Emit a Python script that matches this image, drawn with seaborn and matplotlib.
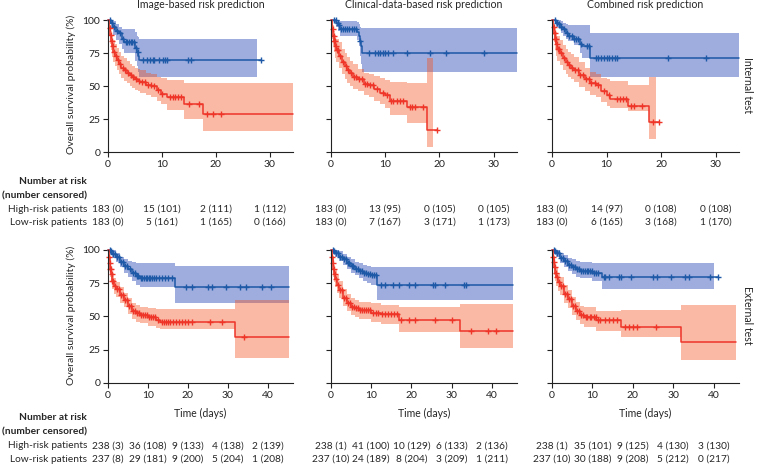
import numpy as np
import matplotlib
matplotlib.use("Agg")
import matplotlib.pyplot as plt
from matplotlib.transforms import blended_transform_factory
import seaborn as sns

nan = np.nan

# ---- panel titles / labels
titles = ["Image-based risk prediction", "Clinical-data-based risk prediction", "Combined risk prediction"]
row_labels = ["Internal test", "External test"]

# ---- internal test, image-based
ii_low_t = [0, 0.6, 1.0, 1.5, 2.0, 2.6, 3.0, 5.0, 5.3, 5.6, 5.8, 27.6, 28.4]
ii_low_s = [100, 98, 95, 92, 90, 86, 83.5, 79, 76, 73, 70, 70, 70]
ii_low_lo = [100, 94, 89, 85, 82, 78, 75, 69, 65, 61, 57, 57, nan]
ii_low_hi = [100, 100, 99, 97, 95, 93, 93, 91, 88, 87, 86, 86, nan]
ii_low_c = [0.4, 0.8, 1.2, 1.6, 2.2, 2.8, 3.3, 3.6, 3.9, 4.2, 4.5, 4.8, 5.1, 5.5, 6.5, 7.2, 7.8,
            8.3, 8.6, 9.5, 10.2, 10.6, 11.0, 14.8, 15.4, 28.4]
ii_high_t = [0, 0.2, 0.4, 0.6, 0.8, 1.0, 1.3, 1.6, 2.0, 2.5, 3.0, 3.5, 4.0, 4.5, 5.0, 5.5, 6.0,
             7.0, 8.0, 9.0, 9.8, 11.0, 14.0, 17.7, 34.3]
ii_high_s = [100, 94, 89, 84, 80, 76, 73, 70, 67, 64, 62, 60, 58, 56.5, 55, 54, 53, 51, 50, 47,
             44, 41.5, 36.5, 29, 29]
ii_high_lo = [100, 88, 82, 77, 72, 68, 65, 62, 59, 56, 54, 52, 50, 48.5, 47, 46, 45, 43, 42, 39,
              36, 32, 25, 16, 16]
ii_high_hi = [100, 99, 96, 92, 88, 85, 82, 79, 76, 73, 71, 69, 67, 65, 64, 63, 62, 60, 59, 57,
              56, 54.5, 52.5, 52.5, 52.5]
ii_high_c = [0.3, 0.5, 0.7, 0.9, 1.1, 1.4, 1.8, 2.2, 2.7, 3.2, 3.7, 4.2, 4.7, 5.2, 5.8, 6.3, 6.8,
             7.4, 7.9, 8.5, 9.2, 10.0, 11.5, 12.0, 12.5, 13.0, 13.5, 15.0, 16.8, 18.3, 19.5, 21.0]

# ---- internal test, clinical-data-based
ic_low_t = [0, 1.0, 1.3, 1.6, 4.8, 5.1, 5.3, 5.5, 5.8, 34.3]
ic_low_s = [100, 98, 96, 93, 91, 88, 84, 80, 75, 75]
ic_low_lo = [100, 95, 92, 88, 85, 80, 73, 67, 60.5, 60.5]
ic_low_hi = [100, 100, 100, 99, 98.5, 97, 95, 94, 93.7, 93.7]
ic_low_c = [0.6, 0.9, 1.2, 1.5, 1.8, 2.2, 2.6, 3.0, 3.4, 3.8, 4.2, 4.6, 5.4, 7.0, 8.2, 8.6, 9.0,
            9.5, 10.0, 10.5, 11.5, 14.0, 18.3, 21.2, 28.3]
ic_high_t = [0, 0.2, 0.4, 0.6, 0.8, 1.0, 1.4, 2.0, 2.5, 3.0, 3.5, 4.0, 5.0, 6.0, 7.0, 8.0, 9.0,
             10.0, 10.8, 14.0, 17.7, 18.9, 19.6]
ic_high_s = [100, 93, 88, 84, 80, 77, 73, 68.5, 65, 62, 59.5, 57, 55, 51.5, 50.5, 48, 45, 43, 39,
             34, 17, 17, 17]
ic_high_lo = [100, 86, 80, 76, 71, 68, 64, 59, 55.5, 52.5, 50, 47.5, 46, 43, 42, 39, 36, 33, 28,
              22, 4, 4, nan]
ic_high_hi = [100, 99, 96, 92, 89, 86, 83, 78, 75, 72, 69, 67, 63, 60, 59, 57.5, 56, 54.6, 53, 52,
              71.5, 71.5, nan]
ic_high_c = [0.3, 0.5, 0.6, 0.7, 0.9, 1.1, 1.3, 1.7, 2.2, 2.7, 3.2, 3.7, 4.2, 4.7, 5.2, 5.7, 6.2,
             6.7, 7.2, 7.8, 8.5, 9.5, 10.3, 11.0, 11.5, 12.2, 12.8, 13.3, 14.5, 15.0, 15.5, 17.0, 19.6]

# ---- internal test, combined
ix_low_t = [0, 0.8, 1.2, 1.6, 2.0, 2.5, 3.0, 4.0, 5.2, 5.5, 7.0, 34.3]
ix_low_s = [100, 98, 97, 95, 93, 90, 88, 86, 82, 80, 71.5, 71.5]
ix_low_lo = [100, 95, 93, 90, 88, 86, 84, 81, 75, 71, 57, 57]
ix_low_hi = [100, 100, 100, 99, 98, 97, 96, 96, 96, 96, 90, 90]
ix_low_c = [0.5, 0.9, 1.3, 1.7, 2.2, 2.7, 3.2, 3.6, 4.0, 4.4, 4.8, 5.3, 6.4, 6.8, 8.0, 8.5, 9.0,
            9.5, 10.0, 10.5, 11.0, 11.5, 12.0, 21.3, 28.3]
ix_high_t = [0, 0.2, 0.4, 0.6, 0.8, 1.0, 1.5, 2.0, 2.5, 3.0, 3.5, 4.0, 5.0, 6.0, 7.0, 8.0, 9.0,
             10.0, 10.7, 13.9, 17.8, 19.0, 19.6]
ix_high_s = [100, 95, 90, 86, 82, 78, 75, 71, 68, 66, 64, 62, 58, 55, 52, 50.5, 46, 43, 40, 35,
             23, 23, 23]
ix_high_lo = [100, 89, 83, 78, 73, 69, 66, 62, 59, 57, 55, 53, 49, 46, 43, 41.5, 38, 35, 33, 31,
              10, 10, nan]
ix_high_hi = [100, 99, 97, 94, 91, 88, 85, 81, 78, 76, 74, 72, 68, 64, 61, 59, 56, 55, 54, 51,
              57, 57, nan]
ix_high_c = [0.3, 0.5, 0.6, 0.7, 0.9, 1.1, 1.3, 1.7, 2.2, 2.7, 3.2, 3.7, 4.2, 4.7, 5.2, 5.7, 6.2,
             6.7, 7.2, 7.8, 8.5, 9.5, 10.5, 12.0, 12.5, 13.0, 13.5, 14.5, 15.0, 16.5, 18.5, 19.6]

# ---- external test, image-based
ei_low_t = [0, 0.5, 1.0, 2.0, 3.0, 4.0, 5.0, 6.0, 7.0, 8.0, 16.8, 45.2]
ei_low_s = [100, 99, 97, 95, 91, 88, 86, 83, 80.5, 79, 72.5, 72.5]
ei_low_lo = [100, 97, 94, 91, 87, 83, 80, 77, 74, 72.5, 60, 60]
ei_low_hi = [100, 100, 100, 98, 95, 93, 92, 91, 90, 90, 88, 88]
ei_low_c = [0.4, 0.8, 1.3, 1.7, 2.3, 2.7, 3.3, 3.8, 4.3, 4.8, 5.5, 6.2, 6.8, 7.3, 7.6, 8.2, 8.6,
            9.0, 9.4, 9.8, 10.2, 10.6, 11.0, 11.5, 12.0, 12.8, 13.5, 14.2, 15.0, 16.0, 19.5, 21.0,
            25.0, 26.0, 29.5, 33.0, 34.5, 38.5, 40.7]
ei_high_t = [0, 0.2, 0.4, 0.6, 0.8, 1.0, 1.5, 2.0, 3.0, 4.0, 5.0, 6.0, 7.0, 8.0, 10.0, 12.0, 13.0,
             31.8, 45.2]
ei_high_s = [100, 95, 90, 86, 82, 77, 73, 70.5, 66, 62.5, 58, 54, 52.4, 51, 49.4, 47, 46, 34.5, 34.5]
ei_high_lo = [100, 91, 85, 80, 76, 71, 67, 65, 60, 57, 52, 48, 46, 45, 43, 41, 40.5, 19, 19]
ei_high_hi = [100, 99, 96, 92, 88, 83, 79, 76, 72, 68, 64, 60, 58.5, 57, 56, 55.5, 55.5, 62.5, 62.5]
ei_high_c = [0.3, 0.5, 0.6, 0.7, 0.9, 1.1, 1.3, 1.7, 2.3, 2.7, 3.3, 3.7, 4.3, 4.7, 5.3, 5.7, 6.3,
             6.7, 7.3, 7.7, 8.3, 8.7, 9.2, 9.7, 10.3, 10.8, 11.3, 11.8, 12.5, 13.5, 14.0, 14.5, 15.0,
             15.5, 16.2, 17.0, 17.8, 18.5, 19.3, 20.0, 21.0, 25.5, 28.5, 34.0]

# ---- external test, clinical-data-based
ec_low_t = [0, 0.5, 1.0, 2.0, 3.0, 4.0, 5.0, 6.0, 7.0, 8.0, 9.0, 10.0, 11.5, 45.2]
ec_low_s = [100, 99, 98, 95, 93, 90, 88, 86, 84.5, 83, 82, 81, 73.5, 73.5]
ec_low_lo = [100, 97, 95, 92, 89, 86, 83, 81, 79, 77, 75, 74, 62.5, 62.5]
ec_low_hi = [100, 100, 100, 99, 97, 95, 93, 91, 90, 89, 88, 87, 87, 87]
ec_low_c = [0.4, 0.8, 1.3, 1.7, 2.3, 2.8, 3.3, 3.7, 4.2, 4.6, 5.2, 5.6, 6.2, 6.6, 7.2, 7.6, 8.2,
            8.6, 9.2, 9.6, 10.2, 10.8, 11.2, 12.5, 13.5, 15.5, 17.0, 19.5, 21.0, 25.5, 26.0, 28.5,
            33.0, 33.5]
ec_high_t = [0, 0.2, 0.4, 0.6, 0.8, 1.0, 1.5, 2.0, 3.0, 4.0, 5.0, 6.0, 7.0, 10.0, 12.4, 17.0, 32.0,
             45.2]
ec_high_s = [100, 95, 90, 86, 82, 78, 74, 70, 64, 60, 57, 56, 54.5, 52.7, 51.5, 47, 39, 39]
ec_high_lo = [100, 91, 85, 80, 76, 72, 68, 64, 58, 54, 51, 49.5, 48, 46, 44, 38, 26, 26]
ec_high_hi = [100, 99, 96, 93, 89, 85, 81, 77, 71, 67, 64, 62.5, 61, 60, 59, 57.5, 59.5, 59.5]
ec_high_c = [0.3, 0.5, 0.7, 0.9, 1.2, 1.7, 2.3, 2.7, 3.3, 3.7, 4.3, 4.7, 5.3, 5.7, 6.3, 6.7, 7.3,
             7.7, 8.3, 8.8, 9.3, 9.8, 10.5, 11.2, 11.8, 12.8, 13.5, 14.2, 15.0, 15.8, 16.5, 17.5,
             19.5, 21.0, 26.0, 30.0, 34.8, 39.0, 41.0]

# ---- external test, combined
ex_low_t = [0, 0.5, 1.0, 2.0, 3.0, 4.0, 5.0, 6.0, 7.0, 10.0, 12.3, 40.2, 41.0]
ex_low_s = [100, 99, 98, 94, 92, 89, 87.5, 86, 84, 83, 80, 80, 80]
ex_low_lo = [100, 97, 95, 90, 87, 84, 82, 80, 79, 77, 71, 71, nan]
ex_low_hi = [100, 100, 100, 98, 96, 94, 93, 92, 91, 90, 90, 90, nan]
ex_low_c = [0.4, 0.8, 1.3, 1.7, 2.3, 2.7, 3.3, 3.7, 4.3, 4.7, 5.3, 5.7, 6.3, 6.7, 7.3, 7.7, 8.2,
            8.6, 9.0, 9.4, 9.8, 10.5, 11.0, 11.5, 12.8, 13.2, 14.0, 16.5, 17.0, 19.5, 25.0, 26.0,
            29.5, 33.0, 34.0, 39.0, 41.0]
ex_high_t = [0, 0.2, 0.4, 0.6, 0.8, 1.0, 1.5, 2.0, 3.0, 4.0, 5.0, 6.0, 6.9, 8.0, 11.0, 17.0, 32.0,
             45.5]
ex_high_s = [100, 95, 91, 87, 83, 80, 76, 73, 67, 63, 58, 54, 51, 49.5, 47, 42, 31, 31]
ex_high_lo = [100, 91, 86, 81, 77, 73, 69, 66, 60, 56, 51, 47, 44, 42, 39, 34.5, 17, 17]
ex_high_hi = [100, 99, 97, 94, 90, 87, 83, 80, 74, 70, 65, 61, 58, 57, 54, 54.5, 59, 59]
ex_high_c = [0.3, 0.5, 0.7, 0.9, 1.2, 1.7, 2.3, 2.7, 3.3, 3.7, 4.3, 4.7, 5.3, 5.7, 6.3, 6.6, 7.3,
             7.7, 8.3, 8.7, 9.3, 9.7, 10.3, 10.8, 11.5, 12.0, 13.0, 14.0, 15.0, 16.0, 18.0, 19.0,
             20.0, 21.0, 25.8]

# ---- number at risk (number censored)
int_ticks = [0, 10, 20, 30]
ext_ticks = [0, 10, 20, 30, 40]
int_high_risk = [["183 (0)", "15 (101)", "2 (111)", "1 (112)"],
                 ["183 (0)", "13 (95)", "0 (105)", "0 (105)"],
                 ["183 (0)", "14 (97)", "0 (108)", "0 (108)"]]
int_low_risk = [["183 (0)", "5 (161)", "1 (165)", "0 (166)"],
                ["183 (0)", "7 (167)", "3 (171)", "1 (173)"],
                ["183 (0)", "6 (165)", "3 (168)", "1 (170)"]]
ext_high_risk = [["238 (3)", "36 (108)", "9 (133)", "4 (138)", "2 (139)"],
                 ["238 (1)", "41 (100)", "10 (129)", "6 (133)", "2 (136)"],
                 ["238 (1)", "35 (101)", "9 (125)", "4 (130)", "3 (130)"]]
ext_low_risk = [["237 (8)", "29 (181)", "9 (200)", "5 (204)", "1 (208)"],
                ["237 (10)", "24 (189)", "8 (204)", "3 (209)", "1 (211)"],
                ["237 (10)", "30 (188)", "9 (208)", "5 (212)", "0 (217)"]]

BLUE_LINE = "#1d59a6"
BLUE_BAND = "#3f5cbf"
RED_LINE = "#ee3528"
RED_BAND = "#f4511e"

sns.set_style("ticks")
plt.rcParams["font.family"] = ["Lato", "DejaVu Sans"]
plt.rcParams["font.size"] = 7

fig = plt.figure(figsize=(7.58, 4.67), dpi=100)
W, H = 758, 467


def px_axes(x0, x1, y_top, y_bot):
    return fig.add_axes([x0 / W, 1 - y_bot / H, (x1 - x0) / W, (y_bot - y_top) / H])


def km(ax, t, s, lo, hi, cens, line_col, band_col, band_alpha):
    t = np.asarray(t, float)
    s = np.asarray(s, float)
    ax.fill_between(t, lo, hi, step="post", color=band_col, alpha=band_alpha, lw=0)
    sns.lineplot(x=t, y=s, drawstyle="steps-post", estimator=None, sort=False,
                 color=line_col, lw=1.1, ax=ax, clip_on=False)
    c = np.asarray(cens, float)
    sc = s[np.searchsorted(t, c, side="right") - 1]
    ax.plot(c, sc, ls="none", marker="+", ms=5, mew=1.0, color=line_col, clip_on=False)


panels = [
    [(ii_low_t, ii_low_s, ii_low_lo, ii_low_hi, ii_low_c, ii_high_t, ii_high_s, ii_high_lo, ii_high_hi, ii_high_c),
     (ic_low_t, ic_low_s, ic_low_lo, ic_low_hi, ic_low_c, ic_high_t, ic_high_s, ic_high_lo, ic_high_hi, ic_high_c),
     (ix_low_t, ix_low_s, ix_low_lo, ix_low_hi, ix_low_c, ix_high_t, ix_high_s, ix_high_lo, ix_high_hi, ix_high_c)],
    [(ei_low_t, ei_low_s, ei_low_lo, ei_low_hi, ei_low_c, ei_high_t, ei_high_s, ei_high_lo, ei_high_hi, ei_high_c),
     (ec_low_t, ec_low_s, ec_low_lo, ec_low_hi, ec_low_c, ec_high_t, ec_high_s, ec_high_lo, ec_high_hi, ec_high_c),
     (ex_low_t, ex_low_s, ex_low_lo, ex_low_hi, ex_low_c, ex_high_t, ex_high_s, ex_high_lo, ex_high_hi, ex_high_c)],
]

col_x = [(108, 293), (331, 517), (552, 739)]
row_y = [(17.4, 152), (247.3, 383)]
xmax = [34.3, 46.3]
ticks = [int_ticks, ext_ticks]
risk_hi = [int_high_risk, ext_high_risk]
risk_lo = [int_low_risk, ext_low_risk]
table_y = [(182, 195.5, 209, 222.5), (417, 431.5, 446, 459.5)]
TFS = 7.3

for r in range(2):
    for c in range(3):
        x0, x1 = col_x[c]
        yt, yb = row_y[r]
        ax = px_axes(x0, x1, yt, yb)
        lt, ls_, llo, lhi, lc, ht, hs, hlo, hhi, hc = panels[r][c]
        km(ax, lt, ls_, llo, lhi, lc, BLUE_LINE, BLUE_BAND, 0.5)
        km(ax, ht, hs, hlo, hhi, hc, RED_LINE, RED_BAND, 0.4)
        ax.set_xlim(0, xmax[r])
        ax.set_ylim(0, 102)
        ax.set_xticks(ticks[r])
        ax.set_yticks([0, 25, 50, 75, 100])
        sns.despine(ax=ax)
        ax.spines["left"].set_bounds(0, 100)
        for sp in ("left", "bottom"):
            ax.spines[sp].set_linewidth(0.8)
            ax.spines[sp].set_color("#222222")
        ax.tick_params(length=3.5, width=0.8, labelsize=7.5, pad=2, colors="#222222")
        ax.set_xlabel("")
        if c == 0:
            ax.set_ylabel("Overall survival probability (%)", fontsize=7.5, labelpad=5)
        else:
            ax.set_yticklabels([])
        if r == 0:
            ax.set_title(titles[c], fontsize=7.6, pad=7)
        else:
            ax.set_xlabel("Time (days)", fontsize=7.6, labelpad=6)
        if c == 2:
            fig.text(748 / W, 1 - (yt + yb) / 2 / H, row_labels[r], rotation=-90,
                     ha="center", va="center", fontsize=7.6)

        # number-at-risk table under each panel
        tr = blended_transform_factory(ax.transData, fig.transFigure)
        y_hd1, y_hd2, y_hi, y_lo = table_y[r]
        for k, tk in enumerate(ticks[r]):
            fig.text(tk, 1 - y_hi / H, risk_hi[r][c][k], transform=tr, ha="center", va="center", fontsize=TFS)
            fig.text(tk, 1 - y_lo / H, risk_lo[r][c][k], transform=tr, ha="center", va="center", fontsize=TFS)
        if c == 0:
            fig.text(87 / W, 1 - y_hd1 / H, "Number at risk", ha="right", va="center",
                     fontsize=TFS, fontweight="bold")
            fig.text(87 / W, 1 - y_hd2 / H, "(number censored)", ha="right", va="center",
                     fontsize=TFS, fontweight="bold")
            fig.text(87 / W, 1 - y_hi / H, "High-risk patients", ha="right", va="center", fontsize=TFS)
            fig.text(87 / W, 1 - y_lo / H, "Low-risk patients", ha="right", va="center", fontsize=TFS)

fig.savefig("out.png", dpi=100)
